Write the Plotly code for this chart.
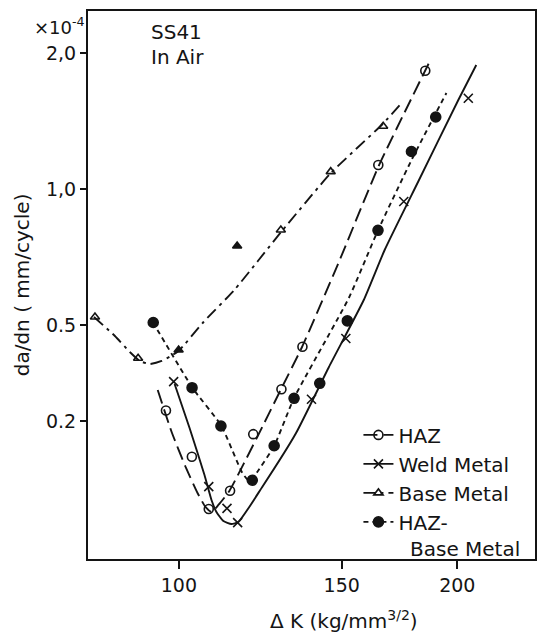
import plotly.graph_objects as go

# ---------------- data ----------------
# HAZ (open circles) measured points
haz_k = [96.83, 103.28, 107.72, 113.59, 120.34, 129.09, 136.02, 164.30, 184.69]
haz_r = [0.3232, 0.2553, 0.1956, 0.2146, 0.2864, 0.3601, 0.4474, 1.1300, 1.8282]
# HAZ fitted curve
haz_fit_k = [94.86, 98.21, 101.68, 104.75, 106.84, 108.45, 110.34, 113.39, 121.54, 128.99, 135.88, 148.94, 164.46, 187.08]
haz_fit_r = [0.3588, 0.2896, 0.2423, 0.2122, 0.1976, 0.1926, 0.1996, 0.2144, 0.2823, 0.3606, 0.4467, 0.6892, 1.1243, 1.9307]

# Weld metal (x) measured points
weld_k = [98.70, 107.72, 112.72, 115.75, 139.12, 151.54, 175.06, 205.58]
weld_r = [0.3743, 0.2191, 0.1962, 0.1824, 0.3422, 0.4665, 0.9383, 1.5881]
# Weld metal fitted curve
weld_fit_k = [98.94, 102.69, 106.58, 108.45, 109.80, 111.72, 113.96, 115.95, 123.06, 133.88, 145.29, 158.46, 166.92, 181.61, 200.53, 209.69]
weld_fit_r = [0.3699, 0.2956, 0.2326, 0.2047, 0.1926, 0.1839, 0.1812, 0.1830, 0.2188, 0.2881, 0.4034, 0.5677, 0.7326, 1.0416, 1.5744, 1.8821]

# Base metal (triangles) measured points
base_k = [81.14, 90.34, 99.93, 115.61, 128.90, 145.94, 166.30]
base_r = [0.5206, 0.4217, 0.4400, 0.7477, 0.8113, 1.0923, 1.3767]
base_sym = ["triangle-up-open", "triangle-up-open", "triangle-up", "triangle-up",
            "triangle-up-open", "triangle-up-open", "triangle-up-open"]
# Base metal fitted curve
base_fit_k = [80.94, 85.27, 88.50, 90.72, 92.99, 95.80, 98.45, 100.18, 106.32, 114.81, 128.99, 146.01, 166.10, 174.54]
base_fit_r = [0.5206, 0.4725, 0.4355, 0.4160, 0.4096, 0.4160, 0.4289, 0.4400, 0.5075, 0.5975, 0.8031, 1.0850, 1.3930, 1.5585]

# HAZ-Base metal (filled circles) measured points
hb_k = [93.81, 103.33, 111.03, 120.05, 126.77, 133.21, 142.01, 152.11, 164.18, 178.44, 189.56]
hb_r = [0.5062, 0.3630, 0.2986, 0.2264, 0.2700, 0.3439, 0.3712, 0.5103, 0.8101, 1.2108, 1.4437]
# HAZ-Base metal fitted curve
hb_fit_k = [93.69, 103.46, 111.17, 117.11, 119.16, 121.54, 126.77, 133.21, 152.68, 164.05, 178.49, 194.66]
hb_fit_r = [0.5075, 0.3625, 0.2986, 0.2350, 0.2256, 0.2362, 0.2696, 0.3444, 0.5736, 0.8072, 1.1596, 1.6316]

x_tickvals = [100, 150, 200]
x_ticktext = ["100", "150", "200"]
y_tickvals = [0.306, 0.5, 1.0, 2.0]
y_ticktext = ["0.2", "0.5", "1,0", "2,0"]

series_names = ["HAZ", "Weld Metal", "Base Metal", "HAZ-"]
hb_name_line2 = "Base Metal"

# ---------------- styles ----------------
INK = "#141414"
FONT = "DejaVu Sans"
dash_haz = "14px,6px"
dash_base = "12px,5px,3px,5px"
dash_hb = "5px,4px"

fig = go.Figure()

def add_series(group, name, fit_x, fit_y, px, py, dash, symbol, msize, legend_symbol):
    fig.add_trace(go.Scatter(x=fit_x, y=fit_y, mode="lines", legendgroup=group,
                             showlegend=False, hoverinfo="skip",
                             line=dict(color=INK, width=1.9, dash=dash, shape="spline", smoothing=0.5)))
    fig.add_trace(go.Scatter(x=px, y=py, mode="markers", legendgroup=group, showlegend=False,
                             marker=dict(symbol=symbol, size=msize, color=INK,
                                         line=dict(color=INK, width=1.6))))
    fig.add_trace(go.Scatter(x=[None], y=[None], mode="lines+markers", name=name,
                             legendgroup=group, showlegend=True,
                             line=dict(color=INK, width=1.9, dash=dash),
                             marker=dict(symbol=legend_symbol, size=msize, color=INK,
                                         line=dict(color=INK, width=1.6))))

add_series("g1", series_names[0], haz_fit_k, haz_fit_r, haz_k, haz_r, dash_haz, "circle-open", 9, "circle-open")
add_series("g2", series_names[1], weld_fit_k, weld_fit_r, weld_k, weld_r, "solid", "x-thin-open", 9, "x-thin-open")
add_series("g3", series_names[2], base_fit_k, base_fit_r, base_k, base_r, dash_base, base_sym, 8, "triangle-up-open")
add_series("g4", series_names[3], hb_fit_k, hb_fit_r, hb_k, hb_r, dash_hb, "circle", 10, "circle")

fig.update_layout(
    width=542, height=633,
    margin=dict(l=88, r=5, t=11, b=74),
    paper_bgcolor="white", plot_bgcolor="white",
    font=dict(family=FONT, color=INK, size=19),
    showlegend=True,
    legend=dict(x=0.605, y=0.262, xanchor="left", yanchor="top",
                bgcolor="rgba(0,0,0,0)", font=dict(size=20, family=FONT, color=INK),
                traceorder="grouped", tracegroupgap=0, itemwidth=30),
    xaxis=dict(type="log", range=[1.9017, 2.3851], tickvals=x_tickvals, ticktext=x_ticktext,
               showgrid=False, zeroline=False, showline=True, linecolor=INK, linewidth=2.2,
               mirror=True, ticks="outside", ticklen=8, tickwidth=1.6, tickcolor=INK,
               tickfont=dict(size=19, family=FONT, color=INK)),
    yaxis=dict(type="log", range=[-0.8195, 0.3942], tickvals=y_tickvals, ticktext=y_ticktext,
               showgrid=False, zeroline=False, showline=True, linecolor=INK, linewidth=2.2,
               mirror=True, ticks="outside", ticklen=6, tickwidth=1.6, tickcolor=INK,
               tickfont=dict(size=19, family=FONT, color=INK)),
    annotations=[
        dict(text="×10<sup>-4</sup>", xref="paper", yref="paper", x=-0.125, y=0.972,
             xanchor="left", yanchor="middle", showarrow=False, font=dict(size=18)),
        dict(text="SS41", xref="paper", yref="paper", x=0.136, y=0.962,
             xanchor="left", yanchor="middle", showarrow=False, font=dict(size=20)),
        dict(text="In Air", xref="paper", yref="paper", x=0.136, y=0.916,
             xanchor="left", yanchor="middle", showarrow=False, font=dict(size=20)),
        dict(text=hb_name_line2, xref="paper", yref="paper", x=0.717, y=0.019,
             xanchor="left", yanchor="middle", showarrow=False, font=dict(size=20)),
        dict(text="da/dn ( mm/cycle)", xref="paper", yref="paper", x=-0.147, y=0.5,
             xanchor="center", yanchor="middle", textangle=-90, showarrow=False, font=dict(size=20)),
        dict(text="Δ K (kg/mm<sup>3/2</sup>)", xref="paper", yref="paper", x=0.572, y=-0.112,
             xanchor="center", yanchor="middle", showarrow=False, font=dict(size=20)),
    ],
)

fig.write_html("out.html")
